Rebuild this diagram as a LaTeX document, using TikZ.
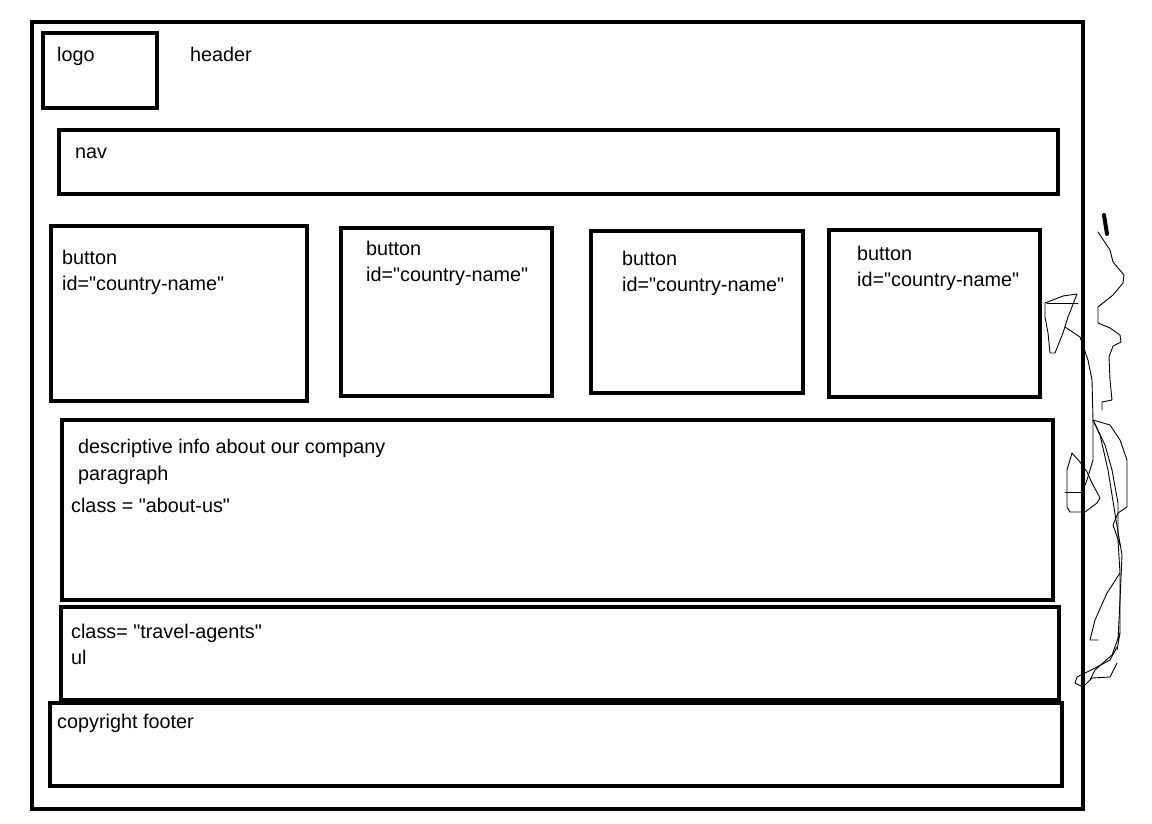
\documentclass[tikz,border=0pt]{standalone}
\usepackage{fontspec}
\setmainfont{Liberation Sans}[Ligatures=TeXOff]
\begin{document}
\begin{tikzpicture}[x=1pt,y=-1pt,
  box/.style={draw=black,line width=4.6pt,rectangle,inner sep=0pt},
  lbl/.style={anchor=base west,inner sep=0pt,font=\fontsize{19.8}{22}\selectfont},
  scrib/.style={draw=black,line width=0.9pt,line join=round,line cap=round}]
\useasboundingbox (0,0) rectangle (1152,823);
\fill[white] (0,0) rectangle (1152,823);
% boxes
\node[box,minimum width=1051pt,minimum height=787pt] (outer) at (557.5,415.5) {};
\node[box,minimum width=114pt,minimum height=75pt] (logo) at (100,70.5) {};
\node[box,minimum width=999pt,minimum height=64pt] (nav) at (558.5,162) {};
\node[box,minimum width=256pt,minimum height=175pt] (b1) at (179,313.5) {};
\node[box,minimum width=211pt,minimum height=168pt] (b2) at (446.5,312) {};
\node[box,minimum width=212pt,minimum height=162pt] (b3) at (697,312) {};
\node[box,minimum width=211pt,minimum height=167pt] (b4) at (934.5,313.5) {};
\node[box,minimum width=991pt,minimum height=180pt] (about) at (557.5,510) {};
\node[box,minimum width=998pt,minimum height=93pt] (travel) at (560,653.5) {};
\node[box,minimum width=1012pt,minimum height=83pt] (footer) at (556,744.5) {};
% labels
\node[lbl] (tlogo) at (57,61) {logo};
\node[lbl] (theader) at (190,61) {header};
\node[lbl] (tnav) at (75,158) {nav};
\node[lbl] (tb1a) at (62,264) {button};
\node[lbl] (tb1b) at (62,290) {id="country-name"};
\node[lbl] (tb2a) at (366,255) {button};
\node[lbl] (tb2b) at (366,281) {id="country-name"};
\node[lbl] (tb3a) at (622,265) {button};
\node[lbl] (tb3b) at (622,291) {id="country-name"};
\node[lbl] (tb4a) at (857,260) {button};
\node[lbl] (tb4b) at (857,286) {id="country-name"};
\node[lbl] (ta1) at (78,453) {descriptive info about our company};
\node[lbl] (ta2) at (78,480) {paragraph};
\node[lbl] (ta3) at (71,512) {class = "about-us"};
\node[lbl] (tt1) at (71,638) {class= "travel-agents"};
\node[lbl] (tt2) at (71,664) {ul};
\node[lbl] (tf) at (57,728) {copyright footer};
% scribbles
\draw[black,line width=4pt,line cap=round] (1104,215) -- (1107,234);
\draw[scrib] (1098,232) -- (1110,250) -- (1113,262) -- (1124,275) -- (1123,283) -- (1113,295) -- (1098,307) -- (1098,323) -- (1110,328) -- (1120,335) -- (1121,342) -- (1113,346) -- (1109,357) -- (1110,380) -- (1112,400) -- (1102,402) -- (1102,410);
\draw[scrib] (1077,294) -- (1063,296) -- (1045,303) -- (1045,317) -- (1048,333) -- (1050,353) -- (1055,353) -- (1063,333) -- (1068,317) -- (1077,294);
\draw[scrib] (1047,303) -- (1078,303);
\draw[scrib] (1065,327) -- (1080,337) -- (1088,360) -- (1092,380) -- (1093,420) -- (1093,460) -- (1087,480) -- (1083,490);
\draw[scrib] (1072,453) -- (1067,470) -- (1067,490) -- (1067,507) -- (1070,512) -- (1085,512) -- (1097,503) -- (1100,498) -- (1092,483) -- (1087,472) -- (1080,462) -- (1072,453);
\draw[scrib] (1065,492) -- (1082,492);
\draw[scrib] (1093,420) -- (1105,445) -- (1112,470) -- (1118,503) -- (1118,540) -- (1120,573) -- (1120,633) -- (1117,650);
\draw[scrib] (1093,420) -- (1100,435) -- (1108,470) -- (1116,520) -- (1122,555) -- (1120,600) -- (1118,640);
\draw[scrib] (1093,420) -- (1110,425) -- (1120,440) -- (1127,460) -- (1127,507) -- (1118,513) -- (1113,525) -- (1120,545);
\draw[scrib] (1120,573) -- (1107,593) -- (1095,620) -- (1090,640) -- (1098,640);
\draw[scrib] (1117,647) -- (1110,660) -- (1097,667) -- (1077,677) -- (1075,683) -- (1083,687) -- (1092,678) -- (1110,677) -- (1117,663);
\draw[scrib] (1120,633) -- (1112,655) -- (1095,670) -- (1090,680);
\end{tikzpicture}
\end{document}
